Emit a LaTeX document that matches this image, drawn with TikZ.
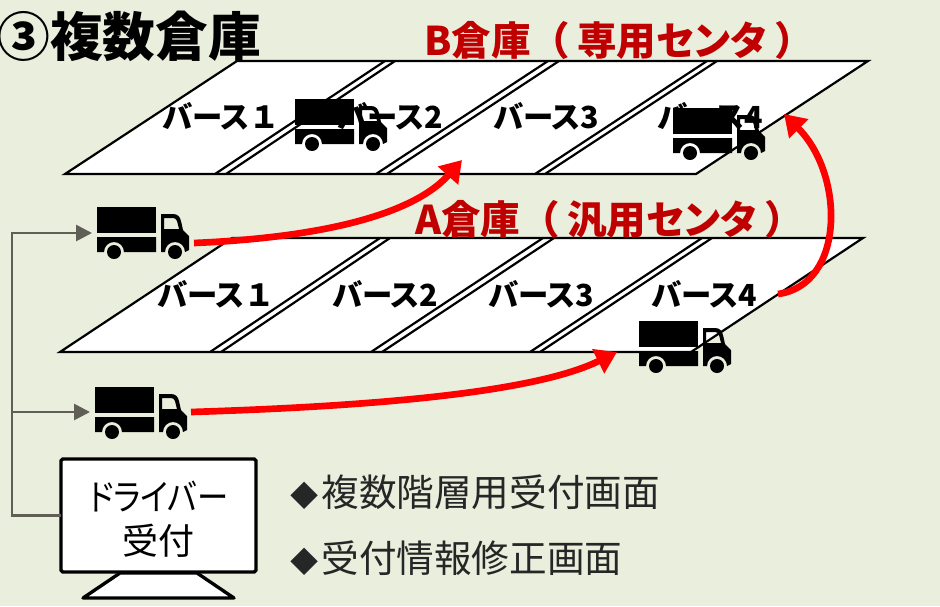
\documentclass[tikz,border=0pt]{standalone}
\usepackage{fontspec}
\usepackage{xcolor}
\usetikzlibrary{arrows.meta}
\setmainfont{Noto Sans CJK JP}[RawFeature={+palt}]
\newfontfamily\fullwidth{Noto Sans CJK JP}
\newfontfamily\narrowkana{Noto Sans CJK JP}[RawFeature={+palt},FakeStretch=0.87]

\definecolor{bgcolor}{HTML}{EAEEDD}
\definecolor{titlered}{HTML}{C00000}
\definecolor{feedgray}{HTML}{5F5F55}
\definecolor{listgray}{HTML}{262626}

\newcommand{\listmark}{{\fontsize{16}{20}\selectfont ◆}\hspace{0.06cm}}

\tikzset{
  floor/.style={draw=black,line width=1.25pt,fill=white,line join=miter},
  barline/.style={draw=black,line width=1.25pt},
  barlabel/.style={font=\fontsize{17.3}{20}\selectfont\bfseries,inner sep=0pt},
  bigtitle/.style={font=\fontsize{30}{34}\selectfont\bfseries,inner sep=0pt,anchor=west},
  floortitle/.style={font=\fontsize{22.5}{26}\selectfont\bfseries,text=titlered,inner sep=0pt,anchor=west},
  listlabel/.style={font=\fontsize{21.4}{24}\selectfont,text=listgray,inner sep=0pt,anchor=west},
  redarrow/.style={draw=red,line width=3.8pt,-{Triangle[length=0.42cm,width=0.52cm]}},
  feedline/.style={draw=feedgray,line width=1.6pt,-{Triangle[length=0.32cm,width=0.32cm]}},
  monitorbox/.style={draw=black,line width=1.9pt,fill=white,rounded corners=1pt,inner sep=0pt,outer sep=0pt,
    minimum width=3.9cm,minimum height=2.26cm},
  monitortext/.style={align=center,inner sep=0pt,font=\fontsize{20.5}{25}\selectfont},
  truck/.pic={
    \fill[black] (0,0) rectangle (59,26);
    \fill[black] (0,30) -- (59,30) -- (59,45) -- (27,45) arc (0:-180:10) -- (0,45) -- cycle;
    \fill[black,even odd rule] (64,7) -- (76,7) .. controls (81,7) and (83,10) .. (84,14) -- (86,23) -- (92,29)
      -- (92,43) -- (88,45) arc (0:-180:10) -- (64,45) -- cycle
      (67,11) -- (76,11) .. controls (78,11) and (79,12) .. (80,14) -- (82,22) -- (67,22) -- cycle;
    \fill[black] (17,45) circle (7);
    \fill[black] (78,45) circle (7);
  }
}

\begin{document}
\begin{tikzpicture}[x=0.02cm,y=-0.02cm]
  \useasboundingbox[fill=bgcolor] (0,0) rectangle (940,606);

  % B floor
  \draw[floor] (237,61) -- (868,61) -- (696,174) -- (65,174) -- cycle;
  \foreach \a/\b in {385/215,395/226,548/376,559/387,707/535,717/545}
    \draw[barline] (\a,61) -- (\b,174);
  \node[barlabel] (b1) at (221,116) {バース{\fullwidth\bfseries １}};
  \node[barlabel] (b2) at (390,116) {バース2};
  \node[barlabel] (b3) at (546,116) {バース3};
  \node[barlabel] (b4) at (710,116) {バース4};

  % A floor
  \draw[floor] (232,238) -- (863,238) -- (691,352) -- (60,352) -- cycle;
  \foreach \a/\b in {380/210,390/221,543/371,554/382,702/530,712/540}
    \draw[barline] (\a,238) -- (\b,352);
  \node[barlabel] (a1) at (216,294) {バース{\fullwidth\bfseries １}};
  \node[barlabel] (a2) at (385,294) {バース2};
  \node[barlabel] (a3) at (541,294) {バース3};
  \node[barlabel] (a4) at (704,294) {バース4};

  \node[bigtitle] (title) at (-3,36) {③複数倉庫};
  \node[floortitle] (titleB) at (424,40) {B倉庫{\fullwidth\bfseries （}\hspace{0.14cm}専用センタ\hspace{0.2cm}）};
  \node[floortitle] (titleA) at (415,219) {A倉庫{\fullwidth\bfseries （}\hspace{0.14cm}汎用センタ\hspace{0.2cm}）};

  \coordinate (truckB2) at (295,99);
  \coordinate (truckB4) at (673,108);
  \coordinate (truckUp) at (97,207);
  \coordinate (truckA4) at (639,321);
  \coordinate (truckLow) at (95,387);
  \pic at (truckB2) {truck};
  \pic at (truckB4) {truck};
  \pic at (truckUp) {truck};
  \pic at (truckA4) {truck};
  \pic at (truckLow) {truck};

  \coordinate (upStart) at (194,243);
  \coordinate (upEnd) at (462,160);
  \coordinate (lowStart) at (191,412);
  \coordinate (lowEnd) at (617,352);
  \coordinate (liftStart) at (778,294);
  \coordinate (liftEnd) at (784,114);
  \draw[redarrow] (upStart) .. controls (310,238) and (410,218) .. (upEnd);
  \draw[redarrow] (lowStart) .. controls (350,407) and (530,395) .. (lowEnd);
  \draw[redarrow] (liftStart) .. controls (845,285) and (845,175) .. (liftEnd);

  \draw[black,line width=1.9pt,fill=white,line join=round] (120,573) -- (197,573) -- (234,598) -- (83,598) -- cycle;
  \node[monitorbox] (monitor) at (158.5,515.5) {};
  \node[monitortext] (monitorText) at (158.5,519) {{\narrowkana ドライバー}\\受付};

  \coordinate (feedCorner) at (12,515.5);
  \coordinate (feedUp) at (92,233);
  \coordinate (feedLow) at (90,412);
  \draw[feedline] (monitor.west) -- (feedCorner) |- (feedUp);
  \draw[feedline] (feedCorner) |- (feedLow);

  \node[listlabel] (list1) at (290,492) {\listmark 複数階層用受付画面};
  \node[listlabel] (list2) at (290,558) {\listmark 受付情報修正画面};
\end{tikzpicture}
\end{document}
